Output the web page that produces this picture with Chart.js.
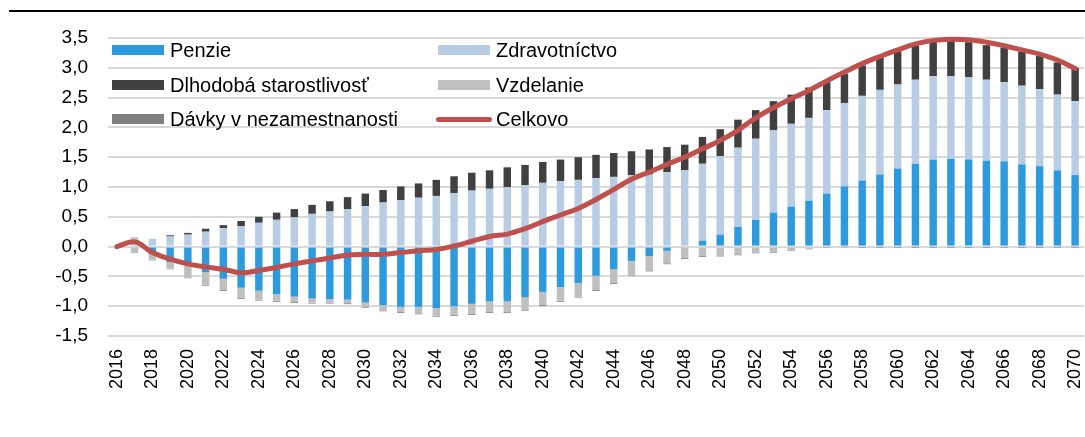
<!DOCTYPE html>
<html>
<head>
<meta charset="utf-8">
<script src="https://cdn.jsdelivr.net/npm/chart.js@4"></script>
<style>
  body { margin: 0; background: #fff; }
  #wrap { position: relative; width: 1085px; height: 437px; }
  .leg { position: absolute; height: 24px; display: flex; align-items: center; white-space: nowrap;
         font: 20px "Liberation Sans", Arial, sans-serif; color: #000; }
  .leg i { display: inline-block; width: 52px; height: 10px; margin-right: 6px; }
  .leg i.ln { width: 56px; height: 5px; border-radius: 3px; margin-left: -2px; margin-right: 4px; }
</style>
</head>
<body>
<div id="wrap">
  <canvas id="c" width="1085" height="437"></canvas>
</div>
<script>
const years = [
  '2016','2017','2018','2019','2020','2021','2022','2023','2024','2025',
  '2026','2027','2028','2029','2030','2031','2032','2033','2034','2035',
  '2036','2037','2038','2039','2040','2041','2042','2043','2044','2045',
  '2046','2047','2048','2049','2050','2051','2052','2053','2054','2055',
  '2056','2057','2058','2059','2060','2061','2062','2063','2064','2065',
  '2066','2067','2068','2069','2070'
];

// Penzie
const pensions = [
  0, 0, -0.12, -0.26, -0.31, -0.43, -0.54, -0.69, -0.74, -0.80,
  -0.84, -0.87, -0.88, -0.89, -0.94, -0.98, -1.01, -1.01, -1.03, -1.00,
  -0.96, -0.92, -0.92, -0.85, -0.76, -0.68, -0.61, -0.49, -0.38, -0.24,
  -0.16, -0.07, 0.0, 0.10, 0.20, 0.33, 0.45, 0.57, 0.67, 0.77,
  0.89, 1.01, 1.11, 1.21, 1.31, 1.39, 1.46, 1.47, 1.46, 1.44,
  1.43, 1.38, 1.35, 1.28, 1.20
];
// Zdravotníctvo
const health = [
  0, 0.16, 0.13, 0.17, 0.20, 0.25, 0.31, 0.34, 0.40, 0.45,
  0.49, 0.55, 0.59, 0.63, 0.68, 0.74, 0.78, 0.82, 0.85, 0.90,
  0.94, 0.97, 1.00, 1.03, 1.07, 1.10, 1.12, 1.15, 1.17, 1.20,
  1.21, 1.25, 1.28, 1.29, 1.32, 1.33, 1.36, 1.38, 1.39, 1.39,
  1.40, 1.40, 1.42, 1.42, 1.41, 1.41, 1.40, 1.39, 1.38, 1.36,
  1.33, 1.32, 1.29, 1.27, 1.24
];
// Dlhodobá starostlivosť
const longTermCare = [
  0, 0, 0, 0.02, 0.03, 0.05, 0.05, 0.09, 0.10, 0.12,
  0.14, 0.15, 0.17, 0.20, 0.21, 0.21, 0.23, 0.24, 0.27, 0.28,
  0.30, 0.31, 0.33, 0.34, 0.35, 0.36, 0.38, 0.39, 0.40, 0.40,
  0.42, 0.42, 0.43, 0.45, 0.45, 0.47, 0.48, 0.49, 0.49, 0.51,
  0.48, 0.49, 0.51, 0.54, 0.56, 0.57, 0.58, 0.59, 0.59, 0.58,
  0.58, 0.57, 0.56, 0.54, 0.56
];
// Vzdelanie
const education = [
  0, -0.09, -0.10, -0.11, -0.21, -0.21, -0.19, -0.17, -0.15, -0.11,
  -0.09, -0.07, -0.06, -0.06, -0.07, -0.09, -0.09, -0.11, -0.13, -0.15,
  -0.17, -0.18, -0.18, -0.21, -0.22, -0.23, -0.23, -0.24, -0.23, -0.23,
  -0.24, -0.21, -0.19, -0.16, -0.15, -0.13, -0.10, -0.09, -0.06, -0.035,
  -0.01, -0.005, 0, 0, 0, 0, 0, 0, 0, 0,
  0, 0, 0, 0, 0
];
// Dávky v nezamestnanosti
const unemployment = [
  0, -0.01, -0.01, -0.01, -0.01, -0.015, -0.015, -0.015, -0.015, -0.015,
  -0.015, -0.015, -0.015, -0.015, -0.015, -0.015, -0.015, -0.015, -0.015, -0.015,
  -0.015, -0.015, -0.015, -0.015, -0.015, -0.015, -0.015, -0.015, -0.015, -0.015,
  -0.015, -0.015, -0.015, -0.015, -0.015, -0.015, -0.012, -0.012, -0.01, -0.01,
  -0.008, -0.006, -0.006, -0.006, -0.006, -0.006, -0.006, -0.006, -0.006, -0.006,
  -0.006, -0.006, -0.006, -0.006, -0.006
];
// Celkovo
const total = [
  0, 0.08, -0.10, -0.21, -0.29, -0.34, -0.38, -0.44, -0.40, -0.35,
  -0.29, -0.24, -0.19, -0.14, -0.13, -0.13, -0.10, -0.07, -0.05, 0.01,
  0.09, 0.17, 0.21, 0.30, 0.42, 0.53, 0.64, 0.79, 0.96, 1.13,
  1.25, 1.38, 1.50, 1.64, 1.78, 1.95, 2.16, 2.33, 2.48, 2.62,
  2.78, 2.93, 3.07, 3.19, 3.30, 3.40, 3.46, 3.48, 3.47, 3.43,
  3.37, 3.30, 3.23, 3.13, 2.99
];

const barNames = ['Penzie', 'Zdravotníctvo', 'Dlhodobá starostlivosť', 'Vzdelanie', 'Dávky v nezamestnanosti'];
const barColors = ['#2e9ade', '#b8cce4', '#404040', '#bfbfbf', '#808080'];
const barValues = [pensions, health, longTermCare, education, unemployment];
const lineName = 'Celkovo';
const lineColor = '#c0504d';

const FONT = '"Liberation Sans", Arial, sans-serif';

// black rule across the top
const topRule = {
  id: 'topRule',
  beforeDraw(chart) {
    const ctx = chart.ctx;
    ctx.save();
    ctx.strokeStyle = '#000';
    ctx.lineWidth = 2;
    ctx.beginPath();
    ctx.moveTo(9, 11);
    ctx.lineTo(1085, 11);
    ctx.stroke();
    ctx.restore();
  }
};

const datasets = barValues.map((vals, i) => ({
  type: 'bar',
  label: barNames[i],
  data: vals,
  backgroundColor: barColors[i],
  borderWidth: 0,
  barPercentage: 0.42,
  categoryPercentage: 1.0,
  stack: 'parts',
  order: 1
}));
datasets.push({
  type: 'line',
  label: lineName,
  data: total,
  borderColor: lineColor,
  borderWidth: 5,
  borderCapStyle: 'round',
  pointRadius: 0,
  tension: 0.4,
  fill: false,
  clip: false,
  stack: 'total',
  order: 0
});

new Chart(document.getElementById('c'), {
  type: 'bar',
  data: { labels: years, datasets: datasets },
  options: {
    responsive: false,
    animation: false,
    layout: { padding: { top: 38, right: 1, left: 0, bottom: 0 } },
    plugins: { legend: { display: false }, tooltip: { enabled: false } },
    scales: {
      x: {
        stacked: true,
        grid: { display: false, drawTicks: false },
        border: { display: false },
        ticks: {
          autoSkip: false,
          minRotation: 90,
          maxRotation: 90,
          padding: 13,
          color: '#000',
          font: { family: FONT, size: 18 },
          callback: (v, i) => (i % 2 === 0 ? years[i] : '')
        },
        afterFit(scale) {
          scale.height = 101;
          scale.paddingLeft = 0;
          scale.paddingRight = 0;
        }
      },
      y: {
        stacked: true,
        min: -1.5,
        max: 3.5,
        grid: { color: '#d9d9d9', lineWidth: 2, drawTicks: false },
        border: { display: false },
        ticks: {
          stepSize: 0.5,
          padding: 20,
          color: '#000',
          font: { family: FONT, size: 19 },
          callback: v => v.toFixed(1).replace('.', ',')
        },
        afterFit(scale) {
          scale.width = 108;
          scale.paddingTop = 0;
          scale.paddingBottom = 0;
        }
      }
    }
  },
  plugins: [topRule]
});

// legend, two columns inside the plot
const wrap = document.getElementById('wrap');
const legendItems = barNames.map((n, i) => ({ name: n, color: barColors[i], line: false }));
legendItems.push({ name: lineName, color: lineColor, line: true });
const colX = [112, 438];
const rowY = [50, 85, 119];
legendItems.forEach((it, i) => {
  const d = document.createElement('div');
  d.className = 'leg';
  d.style.left = colX[i % 2] + 'px';
  d.style.top = (rowY[Math.floor(i / 2)] - 12) + 'px';
  const sw = document.createElement('i');
  if (it.line) sw.className = 'ln';
  sw.style.background = it.color;
  d.appendChild(sw);
  d.appendChild(document.createTextNode(it.name));
  wrap.appendChild(d);
});
</script>
</body>
</html>
